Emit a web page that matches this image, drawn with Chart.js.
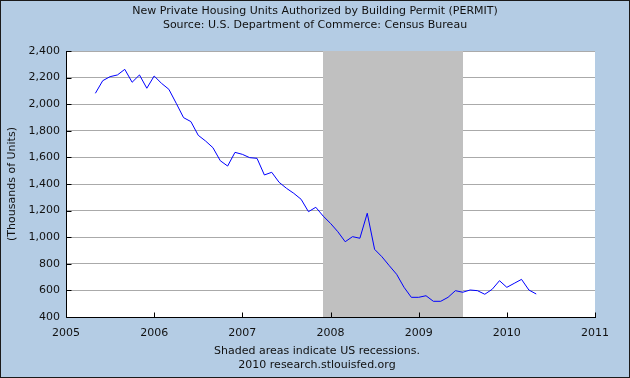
<!DOCTYPE html>
<html><head><meta charset="utf-8">
<script src="https://cdn.jsdelivr.net/npm/chart.js@4.4.0/dist/chart.umd.min.js"></script>
<style>html,body{margin:0;padding:0;background:#b4cce4;overflow:hidden}#wrap{width:630px;height:378px;position:relative}</style>
</head><body><div id="wrap"><canvas id="c" width="630" height="378"></canvas></div>
<script>
const titleLines = ['New Private Housing Units Authorized by Building Permit (PERMIT)', 'Source: U.S. Department of Commerce: Census Bureau'];
const footerLines = ['Shaded areas indicate US recessions.', '2010 research.stlouisfed.org'];
const yAxisTitle = '(Thousands of Units)';

const months = [
 '2005-05','2005-06','2005-07','2005-08','2005-09','2005-10','2005-11','2005-12',
 '2006-01','2006-02','2006-03','2006-04','2006-05','2006-06','2006-07','2006-08','2006-09','2006-10','2006-11','2006-12',
 '2007-01','2007-02','2007-03','2007-04','2007-05','2007-06','2007-07','2007-08','2007-09','2007-10','2007-11','2007-12',
 '2008-01','2008-02','2008-03','2008-04','2008-05','2008-06','2008-07','2008-08','2008-09','2008-10','2008-11','2008-12',
 '2009-01','2009-02','2009-03','2009-04','2009-05','2009-06','2009-07','2009-08','2009-09','2009-10','2009-11','2009-12',
 '2010-01','2010-02','2010-03','2010-04','2010-05'
];
const permits = [
 2082,2177,2207,2220,2262,2165,2220,2120,
 2212,2157,2112,2007,1899,1869,1766,1723,1673,1575,1535,1638,
 1623,1598,1593,1468,1488,1413,1368,1330,1285,1192,1225,1159,
 1104,1041,966,1004,992,1180,909,853,786,721,624,548,
 548,560,518,518,548,598,586,603,598,571,608,673,
 623,653,683,603,573
];
const yTicks = [400,600,800,1000,1200,1400,1600,1800,2000,2200,2400];
const xTicks = [2005,2006,2007,2008,2009,2010,2011];
const recessionStart = ['2007-12'];
const recessionEnd = ['2009-06'];

const FONT = 'DejaVu Sans';
const TEXT = '#111111';
const toYear = s => { const [y, m] = s.split('-').map(Number); return y + (m - 1) / 12; };
const toYearEnd = s => { const [y, m] = s.split('-').map(Number); return y + m / 12; };
const points = months.map((m, i) => ({x: toYear(m), y: permits[i]}));

const framePlugin = {
  id: 'frame',
  beforeDraw(chart) {
    const {ctx, chartArea: a, width, height} = chart;
    ctx.save();
    ctx.fillStyle = '#b4cce4';
    ctx.fillRect(0, 0, width, height);
    ctx.fillStyle = '#ffffff';
    ctx.fillRect(a.left, a.top, a.right - a.left, a.bottom - a.top);
    ctx.strokeStyle = '#1a1a1a';
    ctx.lineWidth = 1;
    ctx.strokeRect(0.5, 0.5, width - 1, height - 1);
    ctx.restore();
  },
  beforeDatasetsDraw(chart) {
    const {ctx, chartArea: a, scales: {x}} = chart;
    ctx.save();
    ctx.fillStyle = '#c0c0c0';
    recessionStart.forEach((s, i) => {
      const x0 = Math.round(x.getPixelForValue(toYear(s)));
      const x1 = Math.round(x.getPixelForValue(toYearEnd(recessionEnd[i])));
      ctx.fillRect(x0, a.top, x1 - x0, a.bottom - a.top);
    });
    ctx.restore();
  },
  afterDatasetsDraw(chart) {
    const {ctx, chartArea: a, scales: {x, y}} = chart;
    ctx.save();
    ctx.strokeStyle = '#000';
    ctx.lineWidth = 1;
    ctx.beginPath();
    const L = Math.round(a.left) + 0.5, B = Math.round(a.bottom) + 0.5;
    ctx.moveTo(L, Math.round(a.top)); ctx.lineTo(L, B); ctx.lineTo(Math.round(a.right) + 1, B);
    yTicks.forEach(v => { const p = Math.round(y.getPixelForValue(v)) + 0.5; ctx.moveTo(L, p); ctx.lineTo(L + 5, p); });
    xTicks.forEach(v => { const p = Math.round(x.getPixelForValue(v)) + 0.5; ctx.moveTo(p, B); ctx.lineTo(p, B - 5); });
    ctx.stroke();
    ctx.restore();
  },
  afterDraw(chart) {
    const {ctx, chartArea: a} = chart;
    ctx.save();
    ctx.fillStyle = TEXT;
    ctx.font = '11px "' + FONT + '"';
    ctx.textAlign = 'center';
    ctx.textBaseline = 'middle';
    ctx.fillText(titleLines[0], 315, 11);
    ctx.fillText(titleLines[1], 315, 25);
    ctx.fillText(footerLines[0], 317, 351);
    ctx.fillText(footerLines[1], 317, 365);
    ctx.translate(12, (a.top + a.bottom) / 2);
    ctx.rotate(-Math.PI / 2);
    ctx.fillText(yAxisTitle, 0, 0);
    ctx.restore();
  }
};

new Chart(document.getElementById('c'), {
  type: 'line',
  data: { datasets: [{ label: 'PERMIT', data: points, borderColor: '#0000ff', borderWidth: 1, pointRadius: 0, tension: 0, fill: false }] },
  options: {
    responsive: false, animation: false, devicePixelRatio: 1,
    layout: { padding: { left: 0, right: 35, top: 51, bottom: 0 } },
    plugins: { legend: { display: false }, tooltip: { enabled: false }, title: { display: false } },
    scales: {
      x: {
        type: 'linear', min: 2005, max: 2011,
        afterBuildTicks: s => { s.ticks = xTicks.map(v => ({value: v})); },
        afterFit: s => { s.height = 61; },
        grid: { display: false, drawTicks: false },
        border: { display: false },
        ticks: { color: TEXT, padding: 10, font: { family: FONT, size: 11 }, callback: v => String(v), maxRotation: 0, autoSkip: false }
      },
      y: {
        min: 400, max: 2400,
        afterBuildTicks: s => { s.ticks = yTicks.map(v => ({value: v})); },
        afterFit: s => { s.width = 66; },
        grid: { color: '#aaaaaa', lineWidth: 1, drawTicks: false },
        border: { display: false },
        ticks: { color: TEXT, padding: 6, font: { family: FONT, size: 11 }, callback: v => Number(v).toLocaleString('en-US') }
      }
    }
  },
  plugins: [framePlugin]
});
</script></body></html>
